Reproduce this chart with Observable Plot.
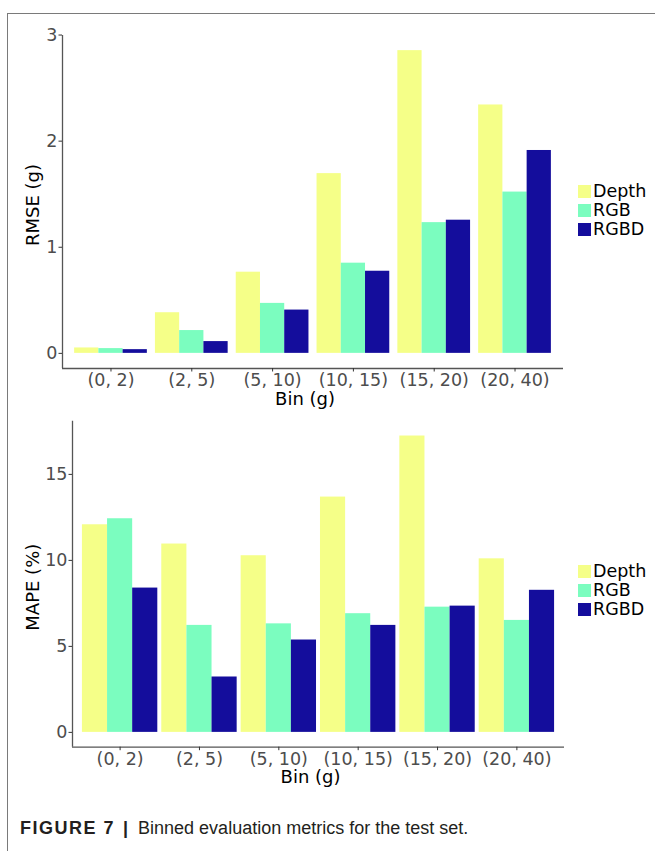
<!DOCTYPE html>
<html>
<head>
<meta charset="utf-8">
<script src="https://cdn.jsdelivr.net/npm/d3@7"></script>
<script src="https://cdn.jsdelivr.net/npm/@observablehq/plot@0.6"></script>
<style>
  html, body { margin: 0; padding: 0; background: white; }
  #page { position: relative; width: 655px; height: 851px; overflow: hidden; background: white; }
  .abs { position: absolute; }
  .frameLine { position: absolute; left: 7px; top: 13px; right: -2px; bottom: -5px;
    border-top: 1.3px solid #7a7a7a; border-left: 1.3px solid #7a7a7a; z-index: 5; pointer-events: none; }
  .legendText { position: absolute; font-family: "DejaVu Sans", sans-serif; font-size: 17.5px; color: #000; line-height: 20px; white-space: nowrap; }
  .swatch { position: absolute; width: 13px; height: 13px; }
  #caption { position: absolute; left: 20px; top: 818px; font-family: "Liberation Sans", Arial, sans-serif;
    font-size: 18px; color: #231f20; white-space: nowrap; }
  #caption b.fig { letter-spacing: 1.5px; }
  #caption b.bar { margin: 0 5px 0 3px; }
</style>
</head>
<body>
<div id="page">
  <div class="frameLine"></div>
  <div id="topChart" class="abs" style="left:0;top:0"></div>
  <div id="bottomChart" class="abs" style="left:0;top:400px"></div>
  <div id="caption"><b class="fig">FIGURE 7</b><b class="bar"> | </b>Binned evaluation metrics for the test set.</div>
</div>
<script>
// ---- data ----
const categories = ["(0, 2)", "(2, 5)", "(5, 10)", "(10, 15)", "(15, 20)", "(20, 40)"];
const series = ["Depth", "RGB", "RGBD"];
const colors = ["#f5ff88", "#7bfdbf", "#140d9c"];

const rmseDepth = [0.051, 0.383, 0.765, 1.694, 2.853, 2.341];
const rmseRGB   = [0.045, 0.215, 0.471, 0.850, 1.232, 1.520];
const rmseRGBD  = [0.035, 0.111, 0.408, 0.774, 1.255, 1.912];

const mapeDepth = [12.07, 10.95, 10.27, 13.68, 17.23, 10.09];
const mapeRGB   = [12.42, 6.22, 6.31, 6.90, 7.28, 6.51];
const mapeRGBD  = [8.39, 3.22, 5.37, 6.22, 7.34, 8.26];

const rmseTicks = [0, 1, 2, 3];
const mapeTicks = [0, 5, 10, 15];
const xTitle = "Bin (g)";

function makeChart({values, yTicks, yTitle, marginLeft, marginRight, marginTop, marginBottom, height, dodge, yTitleDx}) {
  const rows = categories.flatMap((c, i) => series.map((s, j) => ({
    category: c, idx: i + 1, series: s, sIdx: j, value: values[j][i]
  })));
  const maxV = d3.max(rows, d => d.value);
  const yMin = -0.05 * maxV, yMax = 1.05 * maxV;
  const xMin = 0.4, xMax = categories.length + 0.6;
  const idxTicks = categories.map((c, i) => i + 1);
  return Plot.plot({
    width: 655, height, marginLeft, marginRight, marginTop, marginBottom,
    style: {fontFamily: "DejaVu Sans, sans-serif", fontSize: "17.5px", color: "#4d4d4d", background: "transparent", overflow: "visible"},
    x: {type: "linear", domain: [xMin, xMax]},
    y: {domain: [yMin, yMax]},
    color: {domain: series, range: colors},
    marks: [
      Plot.rect(rows, {
        x1: d => d.idx - dodge / 2 + d.sIdx * dodge / 3,
        x2: d => d.idx - dodge / 2 + (d.sIdx + 1) * dodge / 3,
        y1: 0, y2: "value", fill: "series"
      }),
      Plot.ruleX([xMin], {y1: yMin, y2: yMax, stroke: "#555", strokeWidth: 1.3}),
      Plot.ruleY([yMin], {x1: xMin, x2: xMax, stroke: "#555", strokeWidth: 1.3}),
      Plot.axisY({ticks: yTicks, tickFormat: v => String(v), tickSize: 3.5, tickPadding: 1.5, fontSize: 17.5, stroke: "#333", fill: "#4d4d4d", label: null}),
      Plot.axisX({ticks: idxTicks, tickFormat: v => categories[v - 1], tickSize: 3.5, tickPadding: 2, fontSize: 17.5, stroke: "#333", fill: "#4d4d4d", label: null}),
      Plot.text([yTitle], {text: d => d, frameAnchor: "left", rotate: -90, dx: yTitleDx, dy: 3, fontSize: 18, fill: "#000", textAnchor: "middle", lineAnchor: "middle"}),
      Plot.text([xTitle], {text: d => d, frameAnchor: "bottom", dy: 23.5, dx: -8, fontSize: 18, fill: "#000", textAnchor: "middle", lineAnchor: "top"})
    ]
  });
}

document.getElementById("topChart").append(makeChart({
  values: [rmseDepth, rmseRGB, rmseRGBD], yTicks: rmseTicks, yTitle: "RMSE (g)",
  marginLeft: 62, marginRight: 92, marginTop: 35, marginBottom: 42, height: 410, dodge: 0.9, yTitleDx: -29
}));
document.getElementById("bottomChart").append(makeChart({
  values: [mapeDepth, mapeRGB, mapeRGBD], yTicks: mapeTicks, yTitle: "MAPE (%)",
  marginLeft: 72, marginRight: 91, marginTop: 20.7, marginBottom: 53.3, height: 400, dodge: 0.95, yTitleDx: -39
}));

// ---- legends (HTML, built from series/colors) ----
const page = document.getElementById("page");
[191, 571].forEach(centerY => {
  series.forEach((s, j) => {
    const cy = centerY + 19 * j;
    const sw = document.createElement("div");
    sw.className = "swatch";
    sw.style.left = "578px";
    sw.style.top = (cy - 6.5) + "px";
    sw.style.background = colors[j];
    page.append(sw);
    const t = document.createElement("div");
    t.className = "legendText";
    t.style.left = "593px";
    t.style.top = (cy - 10) + "px";
    t.textContent = s;
    page.append(t);
  });
});
</script>
</body>
</html>
